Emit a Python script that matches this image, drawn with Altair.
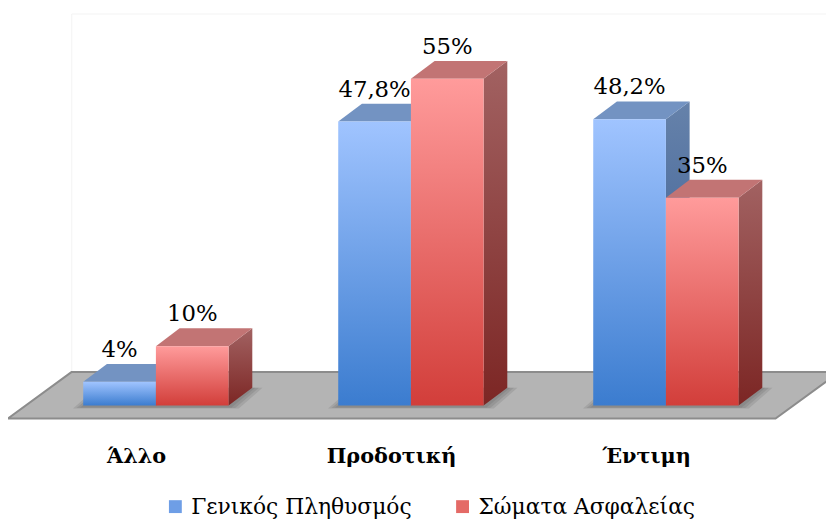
import altair as alt
import pandas as pd

# ---- data ----
categories = ["Άλλο", "Προδοτική", "Έντιμη"]
series_names = ["Γενικός Πληθυσμός", "Σώματα Ασφαλείας"]
general_pop = [4, 47.8, 48.2]
security_forces = [10, 55, 35]

# ---- style constants (3D look, in data units) ----
SERIF = "DejaVu Serif"
BAR_W = 0.285     # bar width in category units
DX = 0.093        # depth offset along x (category units)
DY = 3.0          # depth offset along y (value units)
X_DOM = [-0.58, 2.6278]
Y_DOM = [-3.5, 66.5]
FLOOR_FRONT_Y, FLOOR_BACK_Y = -2.17, 5.67
FLOOR_FRONT_X = [-0.58, 2.43]
FLOOR_BACK_X = [-0.33, 2.68]
WALL_TOP_Y = 65.9


def fmt(v):
    return f"{v:g}".replace(".", ",") + "%"


rows, side_rows, top_rows, shadow_rows = [], [], [], []
for i, cat in enumerate(categories):
    for k, (s, vals) in enumerate(zip(series_names, [general_pop, security_forces])):
        v = vals[i]
        x0 = i - BAR_W + k * BAR_W
        x1 = x0 + BAR_W
        bid = f"{i}-{k}"
        rows.append(dict(cat=cat, series=s, sidx=k, value=v, base=0.0,
                         x0=x0, x1=x1, xc=(x0 + x1) / 2, ylab=v + DY,
                         label=fmt(v)))
        side_rows.append(dict(bid=bid, sidx=k, xs=x1, ylo=0.0, yhi=v))
        side_rows.append(dict(bid=bid, sidx=k, xs=x1 + DX, ylo=DY, yhi=v + DY))
        top_rows.append(dict(bid=bid, sidx=k, yt=v, xa=x0, xb=x1))
        top_rows.append(dict(bid=bid, sidx=k, yt=v + DY, xa=x0 + DX, xb=x1 + DX))
    # soft shadow on the floor under each group (nested, semi-transparent)
    for j, e in enumerate([0.012, 0.026, 0.04]):
        sid = f"{i}-{j}"
        shadow_rows.append(dict(sid=sid, sy=-0.25 - e * 6, sa=i - BAR_W - e, sb=i + BAR_W + e))
        shadow_rows.append(dict(sid=sid, sy=DY, sa=i - BAR_W - e + DX, sb=i + BAR_W + e + DX))

bars = pd.DataFrame(rows)
sides = pd.DataFrame(side_rows)
tops = pd.DataFrame(top_rows)
shadows = pd.DataFrame(shadow_rows)
floor = pd.DataFrame([
    dict(fy=FLOOR_FRONT_Y, fxa=FLOOR_FRONT_X[0], fxb=FLOOR_FRONT_X[1]),
    dict(fy=FLOOR_BACK_Y, fxa=FLOOR_BACK_X[0], fxb=FLOOR_BACK_X[1]),
])
wall = pd.DataFrame([
    dict(wx=FLOOR_BACK_X[0], wx2=FLOOR_BACK_X[0], wy=FLOOR_BACK_Y, wy2=WALL_TOP_Y),
    dict(wx=FLOOR_BACK_X[0], wx2=X_DOM[1], wy=WALL_TOP_Y, wy2=WALL_TOP_Y),
])

xscale = alt.Scale(domain=X_DOM, nice=False, zero=False)
yscale = alt.Scale(domain=Y_DOM, nice=False, zero=False)

label_array = "[" + ",".join(f"'{c}'" for c in categories) + "]"
xaxis = alt.Axis(values=list(range(len(categories))),
                 labelExpr=f"{label_array}[datum.value]",
                 domain=False, ticks=False, grid=False, title=None,
                 labelFont=SERIF, labelFontWeight="bold",
                 labelFontSize=21, labelColor="#000000",
                 labelOffset=-20, labelPadding=19)


def grad(c_top, c_bot):
    return alt.Gradient(gradient="linear",
                        stops=[alt.GradientStop(color=c_top, offset=0),
                               alt.GradientStop(color=c_bot, offset=1)],
                        x1=0, x2=0, y1=0, y2=1)


front_cols = [("#A0C4FF", "#3B7CCF"), ("#FF9B9B", "#D23E3A")]
side_cols = [("#6682AA", "#2F5590"), ("#A26262", "#7C2624")]
top_cols = ["#7393C2", "#C27474"]
legend_cols = ["#6E9EE6", "#E46A66"]

wall_layer = alt.Chart(wall).mark_rule(color="#F3F3F3", strokeWidth=1).encode(
    x=alt.X("wx:Q", scale=xscale, axis=xaxis),
    x2="wx2:Q",
    y=alt.Y("wy:Q", scale=yscale, axis=None),
    y2="wy2:Q",
)

floor_layer = alt.Chart(floor).mark_area(
    orient="horizontal", color="#B4B4B4", stroke="#8C8C8C", strokeWidth=2,
    clip=True
).encode(
    y=alt.Y("fy:Q", scale=yscale, axis=None, stack=None),
    x=alt.X("fxa:Q", scale=xscale, axis=xaxis, stack=None),
    x2="fxb:Q",
)

shadow_layer = alt.Chart(shadows).mark_area(
    orient="horizontal", color="#505050", opacity=0.16
).encode(
    y=alt.Y("sy:Q", scale=yscale, axis=None, stack=None),
    x=alt.X("sa:Q", scale=xscale, axis=xaxis, stack=None),
    x2="sb:Q",
    detail="sid:N",
)

layers = [wall_layer, floor_layer, shadow_layer]
for k in range(2):
    side = alt.Chart(sides).transform_filter(alt.datum.sidx == k).mark_area(
        fill=grad(*side_cols[k])
    ).encode(
        x=alt.X("xs:Q", scale=xscale, axis=xaxis),
        y=alt.Y("yhi:Q", scale=yscale, axis=None, stack=None),
        y2="ylo:Q",
        detail="bid:N",
    )
    top = alt.Chart(tops).transform_filter(alt.datum.sidx == k).mark_area(
        orient="horizontal", fill=top_cols[k]
    ).encode(
        y=alt.Y("yt:Q", scale=yscale, axis=None, stack=None),
        x=alt.X("xa:Q", scale=xscale, axis=xaxis, stack=None),
        x2="xb:Q",
        detail="bid:N",
    )
    front = alt.Chart(bars).transform_filter(alt.datum.sidx == k).mark_rect(
        fill=grad(*front_cols[k])
    ).encode(
        x=alt.X("x0:Q", scale=xscale, axis=xaxis),
        x2="x1:Q",
        y=alt.Y("value:Q", scale=yscale, axis=None),
        y2="base:Q",
        color=alt.Color(
            "series:N",
            scale=alt.Scale(domain=series_names, range=legend_cols),
            legend=alt.Legend(
                orient="none", legendX=158, legendY=490, direction="horizontal",
                title=None, symbolType="square", symbolSize=169,
                symbolStrokeWidth=0, labelFont=SERIF,
                labelFontSize=22, labelColor="#000000", labelOffset=5,
                columnPadding=40, labelLimit=400,
            ),
        ),
    )
    layers += [side, top, front]

labels = alt.Chart(bars).mark_text(
    baseline="bottom", dy=-2, font=SERIF, fontSize=23,
    color="#000000"
).encode(
    x=alt.X("xc:Q", scale=xscale, axis=xaxis),
    y=alt.Y("ylab:Q", scale=yscale, axis=None),
    text="label:N",
)
layers.append(labels)

chart = alt.layer(*layers).properties(
    width=826, height=420,
    padding={"left": 0, "top": 0, "right": 0, "bottom": 92},
    autosize=alt.AutoSizeParams(type="none"),
    background="#FFFFFF",
).configure_view(stroke=None)

chart.save("out.html", embed_options={"renderer": "svg", "actions": False})
